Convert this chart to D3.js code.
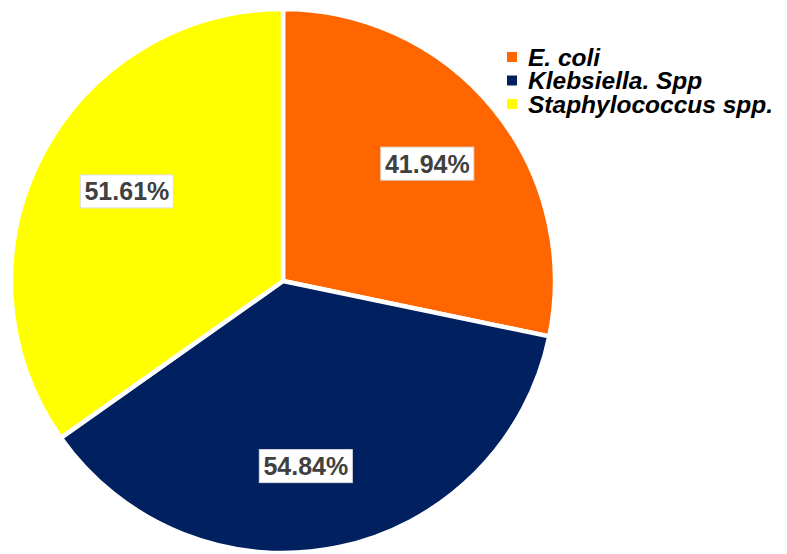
<!DOCTYPE html>
<html>
<head>
<meta charset="utf-8">
<script src="https://cdn.jsdelivr.net/npm/d3@7"></script>
<style>
  body { margin: 0; background: #fff; }
  svg { display: block; font-family: "Liberation Sans", Arial, sans-serif; }
</style>
</head>
<body>
<svg id="chart" width="787" height="554"></svg>
<script>
// data
const categories = ["E. coli", "Klebsiella. Spp", "Staphylococcus spp."];
const values = [41.94, 54.84, 51.61];
const colors = ["#FF6600", "#002060", "#FFFF00"];

const svg = d3.select("#chart");
const cx = 283, cy = 281, radius = 272;

const pie = d3.pie().sort(null).value(d => d.value);
const arcs = pie(categories.map((c, i) => ({ name: c, value: values[i], color: colors[i] })));

const arc = d3.arc().innerRadius(0).outerRadius(radius);
const labelArc = d3.arc().innerRadius(186).outerRadius(186);
// small hand nudges so the boxes sit where the original put them
const nudge = [[0, 0], [-15, 3], [9, -4]];

const g = svg.append("g").attr("transform", `translate(${cx},${cy})`);

g.selectAll("path.slice")
  .data(arcs)
  .enter().append("path")
  .attr("class", "slice")
  .attr("d", arc)
  .attr("fill", d => d.data.color)
  .attr("stroke", "#fff")
  .attr("stroke-width", 4.5)
  .attr("stroke-linejoin", "round");

// percentage labels in white boxes
const lab = g.selectAll("g.lab")
  .data(arcs)
  .enter().append("g")
  .attr("class", "lab")
  .attr("transform", (d, i) => {
    const c = labelArc.centroid(d);
    return `translate(${c[0] + nudge[i][0]},${c[1] + nudge[i][1]})`;
  });

lab.append("rect")
  .attr("x", -46.5).attr("y", -16.5)
  .attr("width", 93).attr("height", 33)
  .attr("fill", "#fff")
  .attr("stroke", "#ddd")
  .attr("stroke-width", 1);

lab.append("text")
  .attr("text-anchor", "middle")
  .attr("dy", "0.36em")
  .attr("font-size", 25)
  .attr("font-weight", "bold")
  .attr("fill", "#404040")
  .text(d => d.data.value.toFixed(2) + "%");

// legend
const legend = svg.append("g").attr("transform", "translate(507,57)");
const item = legend.selectAll("g")
  .data(categories)
  .enter().append("g")
  .attr("transform", (d, i) => `translate(0,${i * 23.5})`);

item.append("rect")
  .attr("x", 0).attr("y", -5)
  .attr("width", 10).attr("height", 10)
  .attr("fill", (d, i) => colors[i]);

item.append("text")
  .attr("x", 21)
  .attr("dy", "0.36em")
  .attr("font-size", 24.5)
  .attr("font-weight", "bold")
  .attr("font-style", "italic")
  .attr("fill", "#000")
  .text(d => d);
</script>
</body>
</html>
